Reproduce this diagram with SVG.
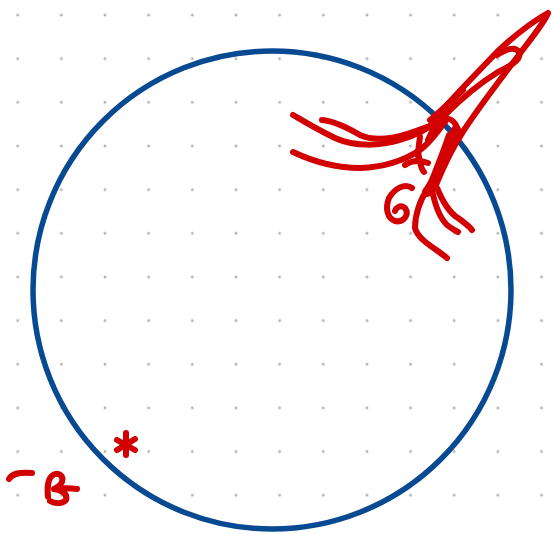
<svg xmlns="http://www.w3.org/2000/svg" width="552" height="534" viewBox="0 0 552 534">
<defs>
<pattern id="dots" x="17.7" y="15" width="43.65" height="43.65" patternUnits="userSpaceOnUse">
<circle cx="0" cy="0" r="1.5" fill="#b4b4b4"/>
<circle cx="43.65" cy="0" r="1.5" fill="#b4b4b4"/>
<circle cx="0" cy="43.65" r="1.5" fill="#b4b4b4"/>
<circle cx="43.65" cy="43.65" r="1.5" fill="#b4b4b4"/>
</pattern>
<style>
.ink{fill:none;stroke:#d20000;stroke-width:6;stroke-linecap:round;stroke-linejoin:round}
.thick{stroke-width:10}
</style>
</defs>
<rect width="552" height="534" fill="#ffffff"/>
<rect width="552" height="534" fill="url(#dots)"/>
<g id="circle">
<circle cx="272" cy="290" r="239" fill="none" stroke="#084a92" stroke-width="5.5"/>
</g>
<g id="sketch">
<path class="ink" d="M293,115 C305,122 318,130 335,138 C355,147 380,146 400,140 C420,134 432,126 440,119"/>
<path class="ink" d="M322,120 C335,121 348,128 360,135 C375,142 395,138 410,133 C425,128 435,124 445,120"/>
<path class="ink" d="M293,152 C310,160 335,168 360,168 C385,167 405,160 420,150 C430,143 437,132 445,122"/>
<path class="ink" d="M432,122 C450,100 475,75 497,52 C515,35 532,22 548,13 C545,22 530,40 515,60 C500,80 482,103 464,130 C454,145 444,165 436,185"/>
<path class="ink" d="M497,55 C505,50 515,46 519,52 C522,60 510,66 498,72 C480,83 460,100 445,115 C438,122 432,130 428,140"/>
<path class="ink" d="M463,90 C452,100 440,112 430,120"/>
<path class="ink" d="M440,120 C448,116 455,120 458,130"/>
<path class="ink thick" d="M456,130 C450,147 443,162 437,175 C433,183 430,188 427,192"/>
<path class="ink" d="M449,135 C444,150 438,165 432,180"/>
<path class="ink" d="M420,137 C419,144 418,150 418,156"/>
<path class="ink" d="M427,190 C420,200 415,215 415,228 C418,240 435,248 447,258"/>
<path class="ink" d="M432,190 C435,205 440,218 447,225 C452,229 456,231 458,232"/>
<path class="ink" d="M437,188 C442,200 448,212 458,218 C465,223 470,227 472,230"/>
<path class="ink" d="M412,188 C405,183 395,188 389,198 C385,208 387,218 395,221 C403,223 410,215 405,208 C400,204 396,208 395,211"/>
<path class="ink" d="M405,165 C412,160 420,160 428,163"/>
<path class="ink" d="M418,152 C420,160 420,168 424,172"/>
<path class="ink" d="M9,479 C12,474 18,472 32,473"/>
<path class="ink" d="M48,497 C47,488 48,478 53,475 C58,472 64,475 62,482 C60,486 56,488 54,489 C62,488 70,488 77,489 M54,489 C62,490 68,494 66,500 C63,504 55,504 50,501"/>
<path class="ink" d="M126,433 L126,455 M117,440 L135,450 M135,439 L117,450"/>
<circle cx="126" cy="445" r="4.5" fill="#d20000"/>
</g>
</svg>
